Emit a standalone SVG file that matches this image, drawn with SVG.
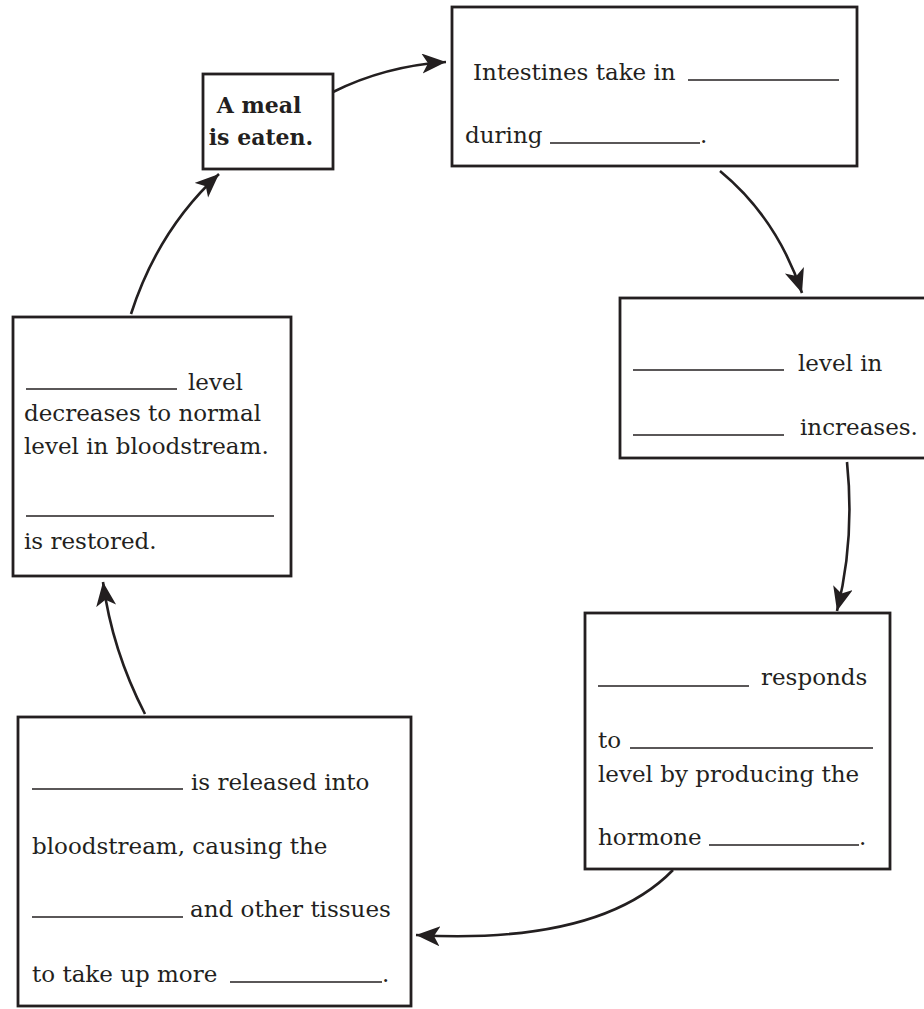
<svg xmlns="http://www.w3.org/2000/svg" width="924" height="1009" viewBox="0 0 924 1009">
  <defs>
    <style>
      .box { fill: #fff; stroke: #231f20; stroke-width: 2.8; }
      .t { font-family: "DejaVu Serif", "Liberation Serif", serif; font-size: 23px; fill: #231f20; }
      .tb { font-family: "DejaVu Serif", "Liberation Serif", serif; font-size: 22px; font-weight: bold; fill: #231f20; text-anchor: middle; }
      .blank { stroke: #231f20; stroke-width: 1.6; }
      .conn { fill: none; stroke: #231f20; stroke-width: 2.6; marker-end: url(#arrow); }
    </style>
    <marker id="arrow" markerUnits="userSpaceOnUse" markerWidth="28" markerHeight="22" refX="24" refY="10" orient="auto">
      <path d="M0,0 L24,10 L0,20 L6,10 z" fill="#231f20"/>
    </marker>
  </defs>

  <rect width="924" height="1009" fill="#fff"/>

  <!-- cycle arrows -->
  <g id="connectors">
    <path class="conn" d="M333,92 Q385,66 446,62"/>
    <path class="conn" d="M720,171 Q777,218 802,293"/>
    <path class="conn" d="M847,462 Q855,540 837,611"/>
    <path class="conn" d="M673,870 Q600,945 416,935"/>
    <path class="conn" d="M145,714 Q112,650 103,582"/>
    <path class="conn" d="M131,314 Q158,230 219,174"/>
  </g>

  <g id="meal">
    <rect class="box" x="203" y="74" width="130" height="95"/>
    <text class="tb" x="259" y="113">A meal</text>
    <text class="tb" x="261" y="145">is eaten.</text>
  </g>

  <g id="intestines">
    <rect class="box" x="452" y="7" width="405" height="159"/>
    <text class="t" x="473" y="80">Intestines take in</text>
    <line class="blank" x1="688" y1="80" x2="839" y2="80"/>
    <text class="t" x="465" y="143">during</text>
    <line class="blank" x1="550" y1="143" x2="700" y2="143"/>
    <text class="t" x="700" y="143">.</text>
  </g>

  <g id="level-increases">
    <rect class="box" x="620" y="298" width="306" height="160"/>
    <line class="blank" x1="633" y1="370" x2="784" y2="370"/>
    <text class="t" x="798" y="371">level in</text>
    <line class="blank" x1="633" y1="435" x2="784" y2="435"/>
    <text class="t" x="800" y="435">increases.</text>
  </g>

  <g id="responds">
    <rect class="box" x="585" y="613" width="305" height="256"/>
    <line class="blank" x1="598" y1="686" x2="749" y2="686"/>
    <text class="t" x="761" y="685">responds</text>
    <text class="t" x="598" y="748">to</text>
    <line class="blank" x1="630" y1="748" x2="873" y2="748"/>
    <text class="t" x="598" y="782">level by producing the</text>
    <text class="t" x="598" y="845">hormone</text>
    <line class="blank" x1="709" y1="845" x2="859" y2="845"/>
    <text class="t" x="859" y="845">.</text>
  </g>

  <g id="released">
    <rect class="box" x="18" y="717" width="393" height="289"/>
    <line class="blank" x1="32" y1="789" x2="183" y2="789"/>
    <text class="t" x="191" y="790">is released into</text>
    <text class="t" x="32" y="854">bloodstream, causing the</text>
    <line class="blank" x1="32" y1="917" x2="183" y2="917"/>
    <text class="t" x="190" y="917">and other tissues</text>
    <text class="t" x="32" y="982">to take up more</text>
    <line class="blank" x1="230" y1="982" x2="382" y2="982"/>
    <text class="t" x="382" y="982">.</text>
  </g>

  <g id="restored">
    <rect class="box" x="13" y="317" width="278" height="259"/>
    <line class="blank" x1="26" y1="389" x2="177" y2="389"/>
    <text class="t" x="188" y="390">level</text>
    <text class="t" x="24" y="421">decreases to normal</text>
    <text class="t" x="24" y="454">level in bloodstream.</text>
    <line class="blank" x1="26" y1="516" x2="274" y2="516"/>
    <text class="t" x="24" y="549">is restored.</text>
  </g>
</svg>
